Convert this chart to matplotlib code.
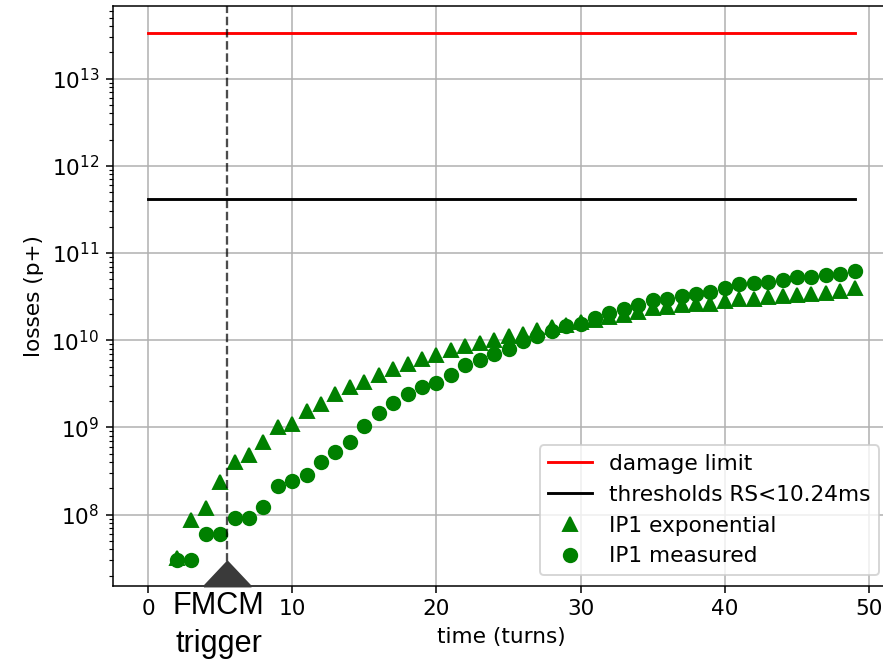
import numpy as np
import matplotlib.pyplot as plt
from matplotlib.transforms import blended_transform_factory

plt.rcParams['font.size'] = 11.3

# losses per turn
turns = np.arange(2, 50)
ip1_exponential = [3.2e7, 8.8e7, 1.19e8, 2.4e8, 4.07e8, 4.78e8, 6.9e8, 1.02e9,
                   1.11e9, 1.53e9, 1.85e9, 2.45e9, 2.9e9, 3.35e9, 3.98e9, 4.72e9,
                   5.38e9, 6.1e9, 6.85e9, 7.8e9, 8.5e9, 9.2e9, 1.0e10, 1.11e10,
                   1.18e10, 1.31e10, 1.41e10, 1.5e10, 1.6e10, 1.72e10, 1.85e10, 1.94e10,
                   2.12e10, 2.32e10, 2.38e10, 2.53e10, 2.6e10, 2.63e10, 2.83e10, 2.94e10,
                   3.0e10, 3.15e10, 3.2e10, 3.35e10, 3.44e10, 3.53e10, 3.68e10, 3.93e10]
ip1_measured = [3.05e7, 3.05e7, 6.0e7, 6.0e7, 9.2e7, 9.2e7, 1.22e8, 2.15e8,
                2.45e8, 2.85e8, 3.97e8, 5.2e8, 6.8e8, 1.03e9, 1.48e9, 1.93e9,
                2.42e9, 2.89e9, 3.26e9, 4.05e9, 5.2e9, 5.9e9, 7.0e9, 7.9e9,
                9.8e9, 1.13e10, 1.29e10, 1.44e10, 1.55e10, 1.81e10, 2.04e10, 2.28e10,
                2.53e10, 2.89e10, 2.94e10, 3.2e10, 3.44e10, 3.59e10, 3.93e10, 4.4e10,
                4.55e10, 4.67e10, 4.89e10, 5.25e10, 5.33e10, 5.58e10, 5.83e10, 6.24e10]

line_turns = np.arange(0, 50)
damage_limit = 3.36e13
threshold = 4.13e11
trigger_turn = 5.45
trigger_label_turn = 4.9

fig = plt.figure(figsize=(883 / 138, 661 / 138), dpi=138)
ax = fig.add_axes([0.1276, 0.1135, 0.8803, 0.8767])

ax.plot(line_turns, np.full(len(line_turns), damage_limit), 'r-', label='damage limit')
ax.plot(line_turns, np.full(len(line_turns), threshold), 'k-', label='thresholds RS<10.24ms')
ax.plot(turns, ip1_exponential, '^', color='green', ms=7, label='IP1 exponential')
ax.plot(turns, ip1_measured, 'o', color='green', ms=7, label='IP1 measured')
ax.set_yscale('log')

ax.axvline(trigger_turn, color='k', ls='--', lw=1.2, alpha=0.7)

# trigger marker sitting on the bottom spine
trans = blended_transform_factory(ax.transData, ax.transAxes)
ax.plot([trigger_turn], [0], marker=[(-1, 0), (1, 0), (0, 1.06), (-1, 0)], ms=26,
        color='#3a3a3a', transform=trans, clip_on=False, zorder=5)
ax.text(trigger_label_turn, -0.008, 'FMCM\ntrigger', transform=trans, ha='center', va='top',
        fontsize=16, family=['Liberation Sans', 'DejaVu Sans'], linespacing=1.35)

ax.set_xlabel('time (turns)')
ax.set_ylabel('losses (p+)')
ax.grid(True)
ax.legend(loc='lower right')

fig.savefig('out.png', dpi=138)
